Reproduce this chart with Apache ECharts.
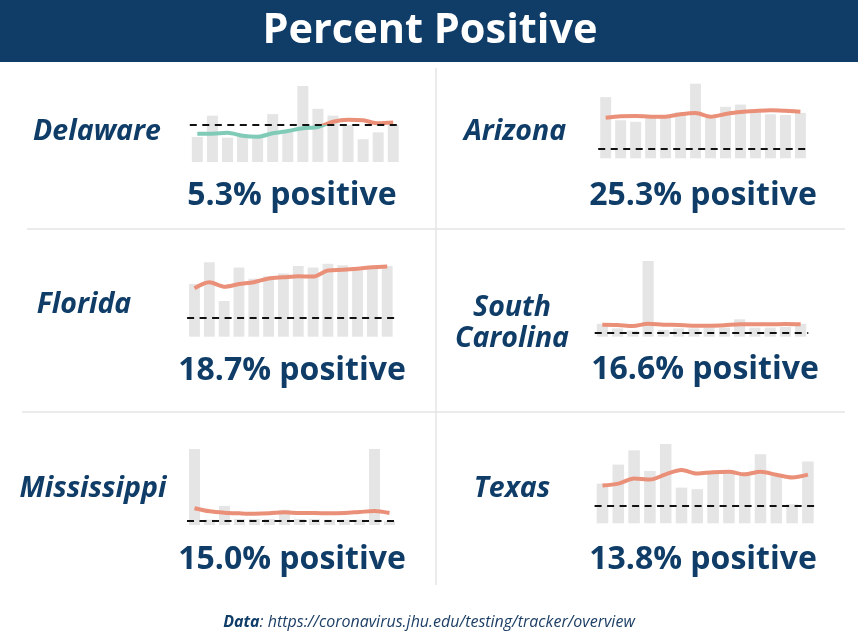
<!DOCTYPE html>
<html>
<head>
<meta charset="utf-8">
<script src="https://cdn.jsdelivr.net/npm/echarts@6/dist/echarts.min.js"></script>
<style>
  html, body { margin: 0; padding: 0; background: #fff; }
  #chart { width: 858px; height: 644px; }
</style>
</head>
<body>
<div id="chart"></div>
<script>
// last 14 days, one bar per day (daily tests, scaled so the tallest bar = 100)
var days = ['1', '2', '3', '4', '5', '6', '7', '8', '9', '10', '11', '12', '13', '14'];
var states = ['Delaware', 'Arizona', 'Florida', 'South\nCarolina', 'Mississippi', 'Texas'];
var latestPct = ['5.3', '25.3', '18.7', '16.6', '15.0', '13.8'];
var threshold = 5;

var delawareTests = [33, 61, 32, 33, 33, 63, 42, 100, 70, 61, 49, 30, 39, 49];
var arizonaTests = [82, 51, 49, 54, 54, 62, 100, 54, 69, 72, 63, 59, 58, 61];
var floridaTests = [71, 100, 48, 93, 78, 81, 85, 95, 93, 98, 96, 89, 93, 95];
var southCarolinaTests = [17, 11, 8, 100, 9, 11, 11, 12, 12, 23, 12, 12, 13, 17];
var mississippiTests = [100, 7, 25, 8, 8, 8, 20, 8, 8, 7, 7, 7, 100, 5];
var texasTests = [50, 74, 92, 66, 100, 45, 43, 63, 65, 61, 87, 62, 24, 78];

// percent positive (%)
var delawarePos = [3.8, 3.8, 3.93, 3.53, 3.4, 3.85, 4.16, 4.52, 4.7, 5.41, 5.68, 5.6, 5.19, 5.3];
var arizonaPos = [22.0, 22.8, 23.0, 22.6, 22.6, 23.9, 24.6, 22.6, 24.0, 25.1, 25.7, 26.1, 25.8, 25.3];
var floridaPos = [12.9, 14.5, 13.3, 14.0, 14.5, 15.5, 15.8, 16.1, 16.0, 17.6, 17.8, 18.1, 18.5, 18.7];
var southCarolinaPos = [16.1, 15.7, 14.3, 17.4, 16.1, 15.7, 14.7, 14.7, 15.3, 16.6, 16.6, 16.6, 17.0, 16.6];
var mississippiPos = [20.9, 17.1, 15.4, 14.6, 14.1, 14.6, 15.9, 15.0, 15.0, 14.6, 15.0, 16.25, 17.5, 15.0];
var texasPos = [10.7, 11.25, 12.7, 12.4, 13.9, 15.1, 14.1, 14.5, 14.6, 13.9, 14.6, 13.8, 13.0, 13.8];

var testsData = [delawareTests, arizonaTests, floridaTests, southCarolinaTests, mississippiTests, texasTests];
var posData = [delawarePos, arizonaPos, floridaPos, southCarolinaPos, mississippiPos, texasPos];

// layout of each little panel
var panels = [
    {grid: {left: 189.8, top: 86, width: 211, height: 76}, lineMax: 10.2, name: [97, 132], value: [292, 196]},
    {grid: {left: 598.2, top: 83.7, width: 209.7, height: 74.6}, lineMax: 40.5, name: [515, 132], value: [703, 196]},
    {grid: {left: 187.1, top: 262.3, width: 207.5, height: 74.4}, lineMax: 19.8, name: [84, 305], value: [292, 371]},
    {grid: {left: 594.7, top: 261, width: 213.6, height: 75.7}, lineMax: 101.3, name: [512, 323], value: [705, 370]},
    {grid: {left: 187, top: 449, width: 210, height: 76}, lineMax: 95, name: [93, 489], value: [292, 560]},
    {grid: {left: 594.6, top: 444, width: 221.2, height: 79.3}, lineMax: 22.5, name: [512, 489], value: [703, 560]}
];

var navy = '#0f3d68';
var orange = '#ea8f78';
var green = '#80cbb8';
var myChart = echarts.init(document.getElementById('chart'));

var grids = [], xAxes = [], yAxes = [], series = [], graphics = [], lineIdx = [];

graphics.push({type: 'rect', shape: {x: 0, y: 0, width: 858, height: 62}, style: {fill: navy}});
graphics.push({
    type: 'text', style: {x: 430, y: 31, text: 'Percent Positive', fill: '#fff',
        font: 'bold 41.5px "Open Sans"', align: 'center', verticalAlign: 'middle'}
});
// separators
graphics.push({type: 'line', shape: {x1: 27, y1: 229, x2: 845, y2: 229}, style: {stroke: '#e4e4e4', lineWidth: 1.5}});
graphics.push({type: 'line', shape: {x1: 22, y1: 412, x2: 845, y2: 412}, style: {stroke: '#e4e4e4', lineWidth: 1.5}});
graphics.push({type: 'line', shape: {x1: 436, y1: 68, x2: 436, y2: 585}, style: {stroke: '#e4e4e4', lineWidth: 1.5}});

for (var i = 0; i < panels.length; i++) {
    var p = panels[i];
    grids.push(p.grid);
    xAxes.push({type: 'category', gridIndex: i, data: days, show: false, boundaryGap: true});
    yAxes.push({type: 'value', gridIndex: i, min: 0, max: 100, show: false});
    yAxes.push({type: 'value', gridIndex: i, min: 0, max: p.lineMax, show: false});

    series.push({
        type: 'bar', xAxisIndex: i, yAxisIndex: 2 * i, data: testsData[i],
        barWidth: '73%', itemStyle: {color: '#e5e5e5'}, silent: true
    });
    lineIdx.push(series.length);
    series.push({
        type: 'line', xAxisIndex: i, yAxisIndex: 2 * i + 1, data: posData[i],
        smooth: 0.3, symbol: 'none', lineStyle: {width: 4, color: orange}, itemStyle: {color: orange}, z: 3,
        markLine: {
            silent: true, symbol: 'none', label: {show: false},
            lineStyle: {color: '#111', type: [7, 5.5], width: 2.2},
            data: [{yAxis: threshold}]
        }
    });

    graphics.push({
        type: 'text', style: {x: p.name[0], y: p.name[1], text: states[i], fill: navy,
            font: 'italic bold 28.5px "Open Sans"', align: 'center', verticalAlign: 'middle', lineHeight: 31}
    });
    graphics.push({
        type: 'text', style: {x: p.value[0], y: p.value[1], text: latestPct[i] + '% positive', fill: navy,
            font: 'bold 32px "Open Sans"', align: 'center', verticalAlign: 'middle'}
    });
}

var option = {
    animation: false,
    backgroundColor: '#fff',
    title: {
        left: 'center', top: 609,
        text: '{b|Data}{i|: https://coronavirus.jhu.edu/testing/tracker/overview}',
        textStyle: {
            rich: {
                b: {fontFamily: 'Open Sans', fontSize: 16, fontWeight: 'bold', fontStyle: 'italic', color: navy},
                i: {fontFamily: 'Open Sans', fontSize: 16, fontWeight: 'normal', fontStyle: 'italic', color: '#1d3f66'}
            }
        }
    },
    grid: grids,
    xAxis: xAxes,
    yAxis: yAxes,
    series: series,
    graphic: graphics
};

myChart.setOption(option);

// lines are green below the 5% threshold and orange above it
var gradSeries = [];
for (var k = 0; k < lineIdx.length; k++) {
    var ty = myChart.convertToPixel({xAxisIndex: k, yAxisIndex: 2 * k + 1}, [0, threshold])[1];
    var off = ty / 644;
    var grad = new echarts.graphic.LinearGradient(0, 0, 0, 644, [
        {offset: 0, color: orange}, {offset: off, color: orange},
        {offset: off, color: green}, {offset: 1, color: green}
    ], true);
    gradSeries[lineIdx[k]] = {lineStyle: {color: grad}};
}
for (var m = 0; m < series.length; m++) if (!gradSeries[m]) gradSeries[m] = {};
myChart.setOption({series: gradSeries});
</script>
</body>
</html>
